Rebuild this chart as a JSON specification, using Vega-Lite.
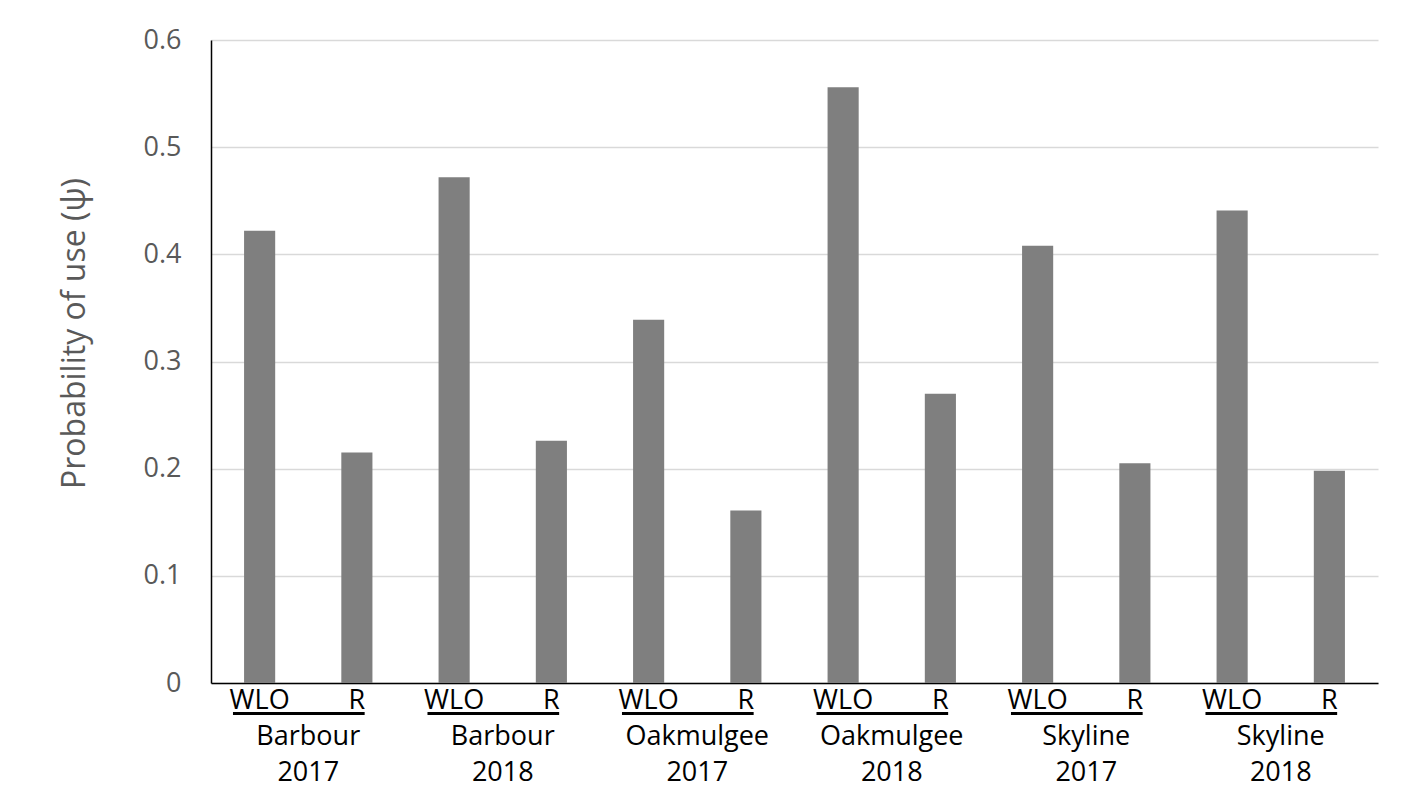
{
  "$schema": "https://vega.github.io/schema/vega-lite/v6.json",
  "width": 1167,
  "height": 643,
  "autosize": {"type": "none"},
  "padding": {"left": 211, "top": 40, "right": 31, "bottom": 113},
  "background": "white",
  "config": {
    "view": {"stroke": null},
    "font": "Open Sans"
  },
  "data": {
    "values": [
      {"group": "Barbour 2017", "type": "WLO", "value": 0.422},
      {"group": "Barbour 2017", "type": "R", "value": 0.215},
      {"group": "Barbour 2018", "type": "WLO", "value": 0.472},
      {"group": "Barbour 2018", "type": "R", "value": 0.226},
      {"group": "Oakmulgee 2017", "type": "WLO", "value": 0.339},
      {"group": "Oakmulgee 2017", "type": "R", "value": 0.161},
      {"group": "Oakmulgee 2018", "type": "WLO", "value": 0.556},
      {"group": "Oakmulgee 2018", "type": "R", "value": 0.270},
      {"group": "Skyline 2017", "type": "WLO", "value": 0.408},
      {"group": "Skyline 2017", "type": "R", "value": 0.205},
      {"group": "Skyline 2018", "type": "WLO", "value": 0.441},
      {"group": "Skyline 2018", "type": "R", "value": 0.198}
    ]
  },
  "layer": [
    {
      "mark": {"type": "bar", "color": "#7f7f7f"},
      "encoding": {
        "x": {
          "field": "group", "type": "nominal",
          "sort": ["Barbour 2017", "Barbour 2018", "Oakmulgee 2017", "Oakmulgee 2018", "Skyline 2017", "Skyline 2018"],
          "scale": {"paddingInner": 0, "paddingOuter": 0},
          "axis": {
            "title": null,
            "labelAngle": 0,
            "labelExpr": "split(datum.label, ' ')",
            "labelFontSize": 27,
            "labelColor": "#000000",
            "labelLineHeight": 36,
            "labelPadding": 40,
            "ticks": false,
            "domainColor": "#000000",
            "domainWidth": 1.5,
            "grid": false
          }
        },
        "xOffset": {
          "field": "type", "type": "nominal",
          "sort": ["WLO", "R"],
          "scale": {"paddingInner": 0.68, "paddingOuter": 0.34}
        },
        "y": {
          "field": "value", "type": "quantitative",
          "scale": {"domain": [0, 0.6], "nice": false},
          "axis": {
            "title": "Probability of use (ψ)",
            "titleFontSize": 32,
            "titleFontWeight": "normal",
            "titleColor": "#595959",
            "titlePadding": 52,
            "titleY": 293,
            "values": [0, 0.1, 0.2, 0.3, 0.4, 0.5, 0.6],
            "format": ".1~f",
            "labelFontSize": 27,
            "labelColor": "#595959",
            "labelPadding": 30,
            "ticks": false,
            "domainColor": "#000000",
            "domainWidth": 1.5,
            "gridColor": "#d9d9d9",
            "gridWidth": 1.5
          }
        }
      }
    },
    {
      "mark": {"type": "text", "fontSize": 27, "color": "#000000", "baseline": "middle"},
      "encoding": {
        "x": {"field": "group", "type": "nominal", "sort": ["Barbour 2017", "Barbour 2018", "Oakmulgee 2017", "Oakmulgee 2018", "Skyline 2017", "Skyline 2018"]},
        "xOffset": {"field": "type", "type": "nominal", "sort": ["WLO", "R"]},
        "y": {"datum": -0.0165, "type": "quantitative", "scale": {"domain": [0, 0.6], "nice": false}},
        "text": {"field": "type"}
      }
    },
    {
      "transform": [{"filter": "datum.type == 'WLO'"}],
      "mark": {"type": "rule", "color": "#000000", "strokeWidth": 3},
      "encoding": {
        "x": {"field": "group", "type": "nominal", "bandPosition": 0.113, "sort": ["Barbour 2017", "Barbour 2018", "Oakmulgee 2017", "Oakmulgee 2018", "Skyline 2017", "Skyline 2018"]},
        "x2": {"field": "group", "bandPosition": 0.79},
        "y": {"datum": -0.0285, "type": "quantitative", "scale": {"domain": [0, 0.6], "nice": false}}
      }
    }
  ]
}
